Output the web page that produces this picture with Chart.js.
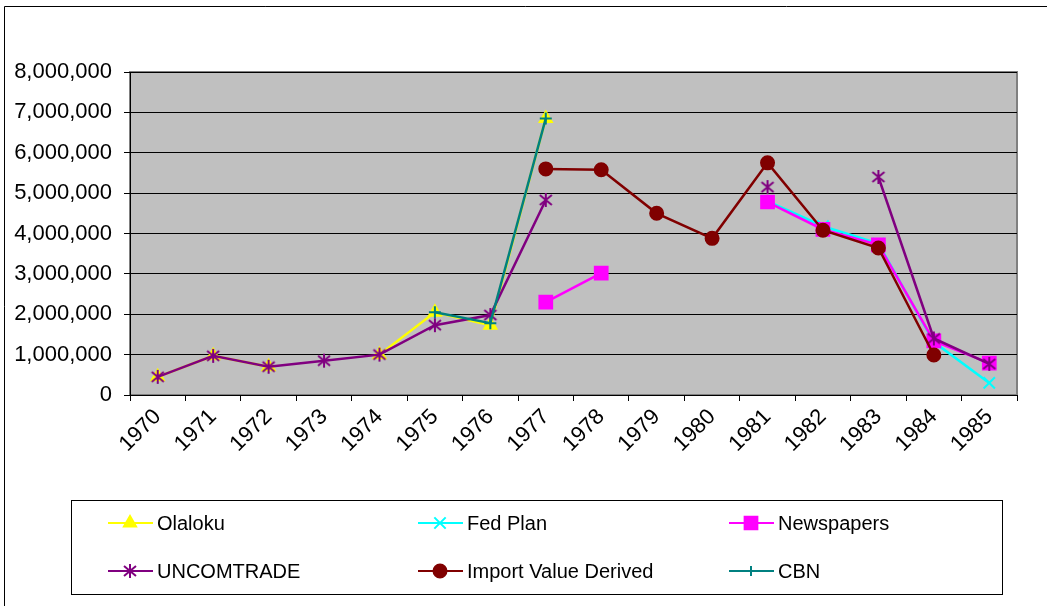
<!DOCTYPE html>
<html lang="en">
<head>
    <meta charset="UTF-8">
    <title>Import values 1970-1985</title>
    <style>
        body {
            margin: 0;
            background: #ffffff;
        }
        #wrap {
            position: relative;
            width: 1047px;
            height: 606px;
        }
    </style>
</head>
<body>
    <div id="wrap">
        <canvas id="chart" width="1047" height="606"></canvas>
    </div>
    <script src="https://cdn.jsdelivr.net/npm/chart.js"></script>
    <script>
        const years = ['1970', '1971', '1972', '1973', '1974', '1975', '1976', '1977',
                       '1978', '1979', '1980', '1981', '1982', '1983', '1984', '1985'];

        const olaloku = [450000, 970000, 700000, null, 1000000, 2050000, 1730000, 6850000,
                         null, null, null, null, null, null, null, null];
        const fedPlan = [null, null, null, null, null, null, null, null,
                         null, null, null, 4800000, 4180000, 3750000, 1310000, 300000];
        const newspapers = [null, null, null, null, null, null, null, 2300000,
                            3020000, null, null, 4780000, 4100000, 3720000, 1340000, 790000];
        const uncomtrade = [450000, 970000, 700000, 850000, 1000000, 1730000, 1980000, 4830000,
                            null, null, null, 5150000, null, 5400000, 1400000, 770000];
        const importValue = [null, null, null, null, null, null, null, 5600000,
                             5580000, 4500000, 3880000, 5750000, 4080000, 3640000, 990000, null];
        const cbn = [null, null, null, null, null, 2050000, 1780000, 6850000,
                     null, null, null, null, null, null, null, null];

        const yTicks = [0, 1000000, 2000000, 3000000, 4000000, 5000000, 6000000, 7000000, 8000000];

        // Excel style asterisk: an X with a vertical bar
        function makeStar(colour) {
            const c = document.createElement('canvas');
            c.width = 16;
            c.height = 16;
            const g = c.getContext('2d');
            g.strokeStyle = colour;
            g.lineWidth = 2;
            g.beginPath();
            g.moveTo(2, 3); g.lineTo(14, 13);
            g.moveTo(14, 3); g.lineTo(2, 13);
            g.moveTo(8, 1); g.lineTo(8, 15);
            g.stroke();
            return c;
        }

        // [label, data, colour, point style, radius, legend column, legend row]
        const seriesDefs = [
            ['Olaloku', olaloku, '#ffff00', 'triangle', 7, 0, 0],
            ['Fed Plan', fedPlan, '#00ffff', 'crossRot', 8, 1, 0],
            ['Newspapers', newspapers, '#ff00ff', 'rect', 9, 2, 0],
            ['UNCOMTRADE', uncomtrade, '#800080', makeStar('#800080'), 7, 0, 1],
            ['Import Value Derived', importValue, '#800000', 'circle', 6.5, 1, 1],
            ['CBN', cbn, '#008080', 'cross', 6, 2, 1]
        ];

        const datasets = seriesDefs.map(function (s, i) {
            return {
                label: s[0],
                data: s[1],
                borderColor: s[2],
                backgroundColor: s[2],
                pointBorderColor: s[2],
                pointBackgroundColor: s[2],
                pointStyle: s[3],
                pointRadius: s[4],
                pointBorderWidth: 2,
                borderWidth: 2.5,
                tension: 0,
                spanGaps: false,
                order: seriesDefs.length - i
            };
        });

        const frame = {
            id: 'frame',
            beforeDraw(chart) {
                const ctx = chart.ctx;
                const a = chart.chartArea;
                ctx.save();
                ctx.fillStyle = '#c0c0c0';
                ctx.fillRect(a.left, a.top, a.right - a.left, a.bottom - a.top);
                ctx.strokeStyle = '#808080';
                ctx.lineWidth = 2;
                ctx.strokeRect(a.left, a.top, a.right - a.left, a.bottom - a.top);
                // outer chart border
                ctx.strokeStyle = '#000000';
                ctx.lineWidth = 1;
                ctx.beginPath();
                ctx.moveTo(4.5, 606);
                ctx.lineTo(4.5, 6.5);
                ctx.lineTo(1047, 6.5);
                ctx.stroke();
                ctx.restore();
            },
            afterDraw(chart) {
                const ctx = chart.ctx;
                ctx.save();
                ctx.strokeStyle = '#000000';
                ctx.lineWidth = 1;
                ctx.strokeRect(71.5, 500.5, 931, 94);
                const colX = [108, 418, 729];
                const rowY = [523, 571];
                ctx.font = '20px Arial, "Liberation Sans", sans-serif';
                ctx.textBaseline = 'middle';
                seriesDefs.forEach(function (s) {
                    const x = colX[s[5]];
                    const y = rowY[s[6]];
                    ctx.strokeStyle = s[2];
                    ctx.fillStyle = s[2];
                    ctx.lineWidth = 2;
                    ctx.beginPath();
                    ctx.moveTo(x, y);
                    ctx.lineTo(x + 45, y);
                    ctx.stroke();
                    Chart.helpers.drawPoint(ctx, {
                        pointStyle: s[3], radius: s[3] === 'cross' ? 5 : s[4], rotation: 0, borderWidth: 2
                    }, x + 22, y);
                    ctx.fillStyle = '#000000';
                    ctx.fillText(s[0], x + 49, y + 1);
                });
                ctx.restore();
            }
        };

        new Chart(document.getElementById('chart'), {
            type: 'line',
            data: { labels: years, datasets: datasets },
            options: {
                responsive: false,
                animation: false,
                layout: { padding: { top: 72, right: 30, left: 0, bottom: 0 } },
                plugins: {
                    legend: { display: false },
                    tooltip: { enabled: false }
                },
                scales: {
                    x: {
                        offset: true,
                        afterFit: function (scale) { scale.height = 211; },
                        grid: {
                            offset: true,
                            drawOnChartArea: false,
                            drawTicks: true,
                            tickLength: 6,
                            color: '#000000'
                        },
                        border: { color: '#000000', width: 1 },
                        ticks: {
                            minRotation: 45,
                            maxRotation: 45,
                            autoSkip: false,
                            padding: 3,
                            color: '#000000',
                            font: { family: 'Arial, "Liberation Sans", sans-serif', size: 22 }
                        }
                    },
                    y: {
                        min: 0,
                        max: 8000000,
                        afterFit: function (scale) { scale.width = 130; },
                        afterBuildTicks: function (scale) {
                            scale.ticks = yTicks.map(function (v) { return { value: v }; });
                        },
                        grid: {
                            color: '#000000',
                            lineWidth: 1,
                            tickLength: 6
                        },
                        border: { color: '#000000', width: 1 },
                        ticks: {
                            padding: 12,
                            color: '#000000',
                            font: { family: 'Arial, "Liberation Sans", sans-serif', size: 22 },
                            callback: function (value) {
                                return value.toLocaleString('en-US');
                            }
                        }
                    }
                }
            },
            plugins: [frame]
        });
    </script>
</body>
</html>
